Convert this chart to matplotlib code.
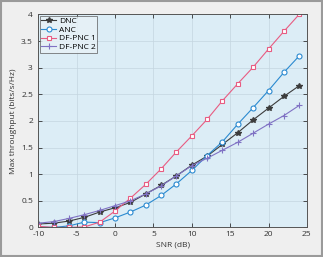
import matplotlib
matplotlib.use("Agg")
import matplotlib.pyplot as plt
from matplotlib.patches import Rectangle

snr = [-10, -8, -6, -4, -2, 0, 2, 4, 6, 8, 10, 12, 14, 16, 18, 20, 22, 24]
dnc = [0.065, 0.08, 0.12, 0.19, 0.29, 0.37, 0.47, 0.63, 0.79, 0.97, 1.17, 1.34, 1.56, 1.78, 2.02, 2.24, 2.46, 2.66]
anc = [0.01, 0.0, 0.03, 0.1, 0.09, 0.18, 0.29, 0.42, 0.60, 0.82, 1.07, 1.35, 1.61, 1.94, 2.25, 2.57, 2.91, 3.22]
dfpnc1 = [0.02, 0.0, 0.0, 0.01, 0.10, 0.31, 0.55, 0.81, 1.10, 1.42, 1.72, 2.03, 2.38, 2.70, 3.01, 3.35, 3.68, 4.0]
dfpnc2 = [0.08, 0.11, 0.17, 0.24, 0.32, 0.41, 0.50, 0.63, 0.78, 0.97, 1.16, 1.30, 1.45, 1.60, 1.77, 1.94, 2.10, 2.29]
labels = ["DNC", "ANC", "DF-PNC 1", "DF-PNC 2"]
xticks = [-10, -5, 0, 5, 10, 15, 20, 25]
xtick_labels = ["-10", "-5", "0", "5", "10", "15", "20", "25"]
yticks = [0, 0.5, 1, 1.5, 2, 2.5, 3, 3.5, 4]
ytick_labels = ["0", "0.5", "1", "1.5", "2", "2.5", "3", "3.5", "4"]

plt.rcParams['font.family'] = ['Open Sans', 'DejaVu Sans']
plt.rcParams['axes.unicode_minus'] = False

fig = plt.figure(figsize=(3.23, 2.57), dpi=100)
fig.patch.set_facecolor('#efefef')
fig.patches.append(Rectangle((0.002, 0.002), 0.996, 0.996, transform=fig.transFigure,
                             fill=False, edgecolor='#9a9a9a', linewidth=1.5))
ax = fig.add_axes([0.119, 0.115, 0.831, 0.829])
ax.set_facecolor('#dcedf6')

ax.plot(snr, dnc, color='#3c3c3c', marker='*', markersize=4.2, linewidth=0.8,
        markerfacecolor='#3c3c3c', label=labels[0])
ax.plot(snr, anc, color='#2b8ad0', marker='o', markersize=3.6, linewidth=0.8,
        markerfacecolor='white', markeredgewidth=0.8, label=labels[1])
ax.plot(snr, dfpnc1, color='#e85c82', marker='s', markersize=3.4, linewidth=0.8,
        markerfacecolor='white', markeredgewidth=0.8, label=labels[2])
ax.plot(snr, dfpnc2, color='#8072c4', marker='+', markersize=4.2, linewidth=0.8,
        markeredgewidth=0.8, label=labels[3])

ax.set_xlim(-10, 25)
ax.set_ylim(0, 4)
ax.set_xticks(xticks)
ax.set_xticklabels(xtick_labels)
ax.set_yticks(yticks)
ax.set_yticklabels(ytick_labels)
ax.tick_params(direction='in', length=3, width=0.6, labelsize=6, colors='#333333',
               top=True, right=True)
ax.tick_params(axis='x', pad=2.2)
ax.tick_params(axis='y', pad=4)
ax.grid(True, color='#c4d6e0', linewidth=0.5)
for s in ax.spines.values():
    s.set_color('#555555')
    s.set_linewidth(0.7)

ax.set_xlabel('SNR (dB)', fontsize=6, color='#333333', labelpad=3)
ax.set_ylabel('Max throughput (bits/s/Hz)', fontsize=6, color='#333333', labelpad=3)

leg = ax.legend(loc='upper left', fontsize=6, frameon=True, fancybox=False,
                borderpad=0.2, handlelength=1.8, handletextpad=0.3, labelspacing=0.1,
                borderaxespad=0.15)
leg.get_frame().set_edgecolor('#555555')
leg.get_frame().set_linewidth(0.6)
leg.get_frame().set_facecolor('#e8f2f7')

fig.savefig('out.png', dpi=100, facecolor=fig.get_facecolor())
